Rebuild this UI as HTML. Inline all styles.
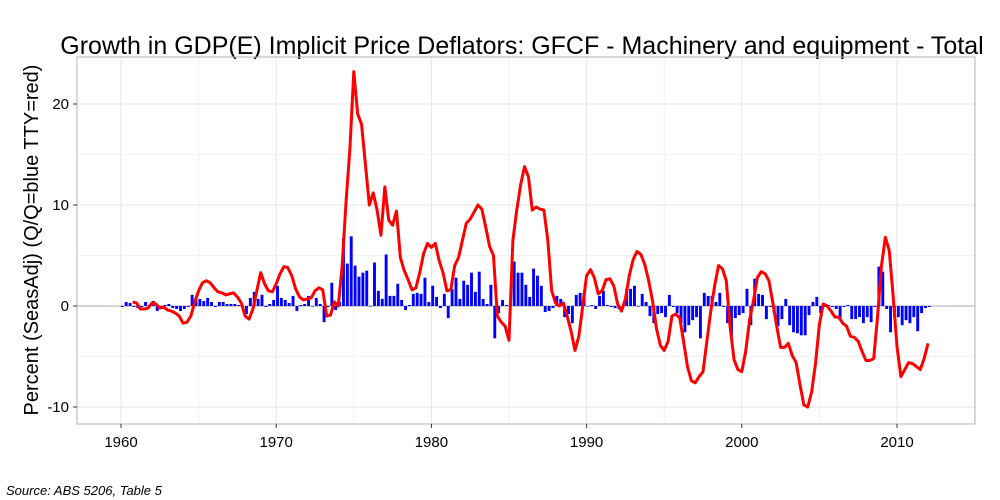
<!DOCTYPE html>
<html><head><meta charset="utf-8">
<style>
html,body{margin:0;padding:0;background:#fff;}
svg{display:block;font-family:"Liberation Sans",sans-serif;}
</style></head>
<body>
<svg id="chart" width="1000" height="500" viewBox="0 0 1000 500" xmlns="http://www.w3.org/2000/svg">
<rect x="0" y="0" width="1000" height="500" fill="#fff"/>
<text x="522" y="54" font-size="25" text-anchor="middle" fill="#000">Growth in GDP(E) Implicit Price Deflators: GFCF - Machinery and equipment - Total</text>
<text transform="translate(38,240) rotate(-90)" font-size="20" text-anchor="middle" fill="#000">Percent (SeasAdj) (Q/Q=blue TTY=red)</text>
<text x="6" y="495" font-size="13" font-style="italic" fill="#000">Source: ABS 5206, Table 5</text>
<g id="grid"></g>
<g id="bars"></g>
<g id="lines"></g>
<g id="axes"></g>
</svg>
<script>
const barStart = 1960.0;
const qqValues = [-0.1,0.4,0.3,-0.1,-0.2,-0.1,0.4,0.1,0.5,-0.5,-0.1,0.1,0.2,-0.2,-0.3,-0.5,-0.3,-0.1,1.1,0.6,0.7,0.5,0.8,0.4,-0.1,0.4,0.4,0.2,0.2,0.2,0.1,-0.1,-0.8,0.8,1.4,0.7,1.1,-0.1,0.2,0.6,2.0,0.8,0.6,0.3,1.0,-0.5,0.1,0.2,1.0,0.0,0.8,0.2,-1.6,-0.1,2.3,-0.4,0.4,6.7,4.2,6.9,
4.0,2.9,3.3,3.5,0.0,4.3,1.5,0.7,5.1,1.0,1.0,2.2,0.6,-0.4,0.1,1.2,1.3,1.2,2.8,0.4,2.0,0.9,-0.2,1.2,-1.2,1.7,2.8,0.7,2.5,2.1,3.3,1.4,3.4,0.7,0.2,2.1,-3.2,-0.7,0.6,0.1,0.2,4.4,3.3,3.3,2.1,0.9,3.7,3.0,2.0,-0.6,-0.5,-0.2,1.0,0.7,-1.1,-0.8,-1.7,1.1,1.3,
1.3,0.0,0.1,-0.3,1.0,1.5,0.1,-0.1,-0.2,-0.3,-0.2,1.7,1.7,2.0,0.0,1.2,0.4,-1.0,-1.7,-0.8,
-0.7,-1.1,1.1,-0.1,-0.7,-1.7,-2.6,-1.9,-1.4,-1.1,-3.2,1.3,1.0,1.0,0.4,1.3,-0.1,-1.7,-3.0,-1.2,-0.9,-0.7,1.7,-1.9,2.7,1.2,1.1,-1.3,-0.1,-0.7,-2.0,-1.3,0.7,-1.9,-2.6,-2.7,-2.9,-2.9,-0.9,0.4,0.9,-0.7,-0.1,0.1,-0.1,-0.3,-1.4,-0.1,0.1,-1.3,-1.3,-1.1,-1.7,-1.1,-1.6,-0.1,3.9,3.4,-0.3,-2.6,-1.1,-1.1,-1.9,-1.4,-1.7,-1.1,-2.5,-0.7,-0.2,-0.1];
const lineStart = 1960.75;
const ttyValues = [0.4,
0.3,-0.3,-0.3,-0.2, 0.3,0.2,-0.2,-0.1, -0.4,-0.5,-0.7,-1.0, -1.7,-1.6,-1.0,0.4, 1.5,2.3,2.5,2.3, 1.8,1.4,1.3,1.1,
1.2,1.3,0.9,0.3, -1.0,-1.3,-0.3,1.5, 3.3,2.2,1.5,1.4, 2.2,3.2,3.9,3.8, 3.0,1.7,0.9,0.6, 0.7,0.8,1.5,1.8, 1.6,-1.0,-0.9,0.4,
0.0,4.0,10.3,15.6, 23.2,19.0,18.0,14.0, 10.0,11.2,9.5,7.0, 11.8,8.5,8.0,9.4, 4.8,3.5,2.6,1.6, 1.8,3.3,5.2,6.2,
5.8,6.2,4.5,3.3, 1.5,1.6,4.0,4.8, 6.5,8.2,8.6,9.3, 10.0,9.6,7.8,5.9, 5.0,-1.0,-1.6,-2.0, -3.4,6.5,9.5,12.0, 13.8,12.8,9.5,9.8, 9.6,9.5,6.5,1.5, 0.3,0.0,0.3,-1.0, -2.5,-4.4,-3.0,0.0,
3.0,3.6,2.8,1.2, 1.5,2.6,2.7,2.0, 0.2,-0.5,0.7,3.0, 4.6,5.4,5.1,4.1, 2.5,0.5,-2.2,-3.9, -4.4,-3.5,-1.0,-0.8, -1.2,-3.5,-6.0,-7.4, -7.6,-7.0,-6.5,-3.5, -0.5,2.0,4.0,3.7, 2.5,-2.1,-5.3,-6.3,
-6.5,-4.5,-1.4,0.5, 2.8,3.4,3.2,2.5, 0.3,-2.0,-4.1,-4.1, -3.7,-4.9,-5.6,-7.8, -9.8,-10.0,-8.5,-5.7, -1.8,0.2,0.0,-0.5, -1.1,-1.1,-1.7,-2.0, -3.0,-3.1,-3.5,-4.5, -5.4,-5.4,-5.2,-1.0, 4.0,6.8,5.5,1.0,
-4.0,-7.0,-6.3,-5.6, -5.7,-6.0,-6.3,-5.2, -3.7];
const yTicks = [-10,0,10,20];
const yTickLabels = ["-10","0","10","20"];
const xTicks = [1960,1970,1980,1990,2000,2010];
const xTickLabels = ["1960","1970","1980","1990","2000","2010"];

const NS = "http://www.w3.org/2000/svg";
const P = {l:77, r:975, t:57, b:424};
function xs(yr){ return 121 + (yr - 1960) * 15.52; }
function ys(v){ return 306 - v * 10.1; }
function mk(tag, attrs, parent){ const e=document.createElementNS(NS,tag); for(const k in attrs) e.setAttribute(k, attrs[k]); parent.appendChild(e); return e; }

const grid = document.getElementById('grid');
const bars = document.getElementById('bars');
const lines = document.getElementById('lines');
const axes = document.getElementById('axes');

for (let v=-15; v<=25; v+=10){ const y=ys(v); if(y<P.t||y>P.b) continue;
  const g = mk('line',{x1:P.l,x2:P.r,y1:y,y2:y,stroke:'#f2f2f2','stroke-width':1},grid);
  
   }
for (let yr=1955; yr<=2015; yr+=10){ const x=xs(yr); if(x<P.l||x>P.r) continue;
  const g = mk('line',{x1:x,x2:x,y1:P.t,y2:P.b,stroke:'#f2f2f2','stroke-width':1},grid);
  
   }
yTicks.forEach(v=>{ const y=ys(v);
  const g = mk('line',{x1:P.l,x2:P.r,y1:y,y2:y,stroke:'#e6e6e6','stroke-width':1},grid);
  
   });
xTicks.forEach(yr=>{ const x=xs(yr);
  const g = mk('line',{x1:x,x2:x,y1:P.t,y2:P.b,stroke:'#e6e6e6','stroke-width':1},grid);
  
   });
const z = mk('line',{x1:P.l,x2:P.r,y1:ys(0),y2:ys(0),stroke:'#aaaaaa','stroke-width':1},grid);



qqValues.forEach((v,i)=>{
  const yr = barStart + i*0.25;
  const cx = xs(yr) + 1.3;
  const y0 = ys(0), y1 = ys(v);
  const r = mk('rect',{x:cx-1.45, y:Math.min(y0,y1), width:2.9, height:Math.max(0.6,Math.abs(y1-y0)), fill:'#0000ff'},bars);
  
  
});

let d = '';
ttyValues.forEach((v,i)=>{ const yr=lineStart+i*0.25; d += (i?'L':'M') + xs(yr).toFixed(2) + ',' + ys(v).toFixed(2); });
const pl = mk('path',{d:d, fill:'none', stroke:'#ff0000', 'stroke-width':3, 'stroke-linejoin':'round'},lines);



const br = mk('rect',{x:P.l,y:P.t,width:P.r-P.l,height:P.b-P.t,fill:'none',stroke:'#b3b3b3','stroke-width':1},axes);



yTicks.forEach((v,i)=>{ const y=ys(v);
  const t = mk('line',{x1:P.l-4,x2:P.l,y1:y,y2:y,stroke:'#333','stroke-width':1},axes);
  
  
  const l = mk('text',{x:P.l-8,y:y+5,'font-size':15,'text-anchor':'end',fill:'#000'},axes);
  l.textContent = yTickLabels[i];
  
  
});
xTicks.forEach((yr,i)=>{ const x=xs(yr);
  const t = mk('line',{x1:x,x2:x,y1:P.b,y2:P.b+4,stroke:'#333','stroke-width':1},axes);
  
  
  const l = mk('text',{x:x,y:P.b+23,'font-size':15,'text-anchor':'middle',fill:'#000'},axes);
  l.textContent = xTickLabels[i];
  
  
});
</script>
</body></html>
